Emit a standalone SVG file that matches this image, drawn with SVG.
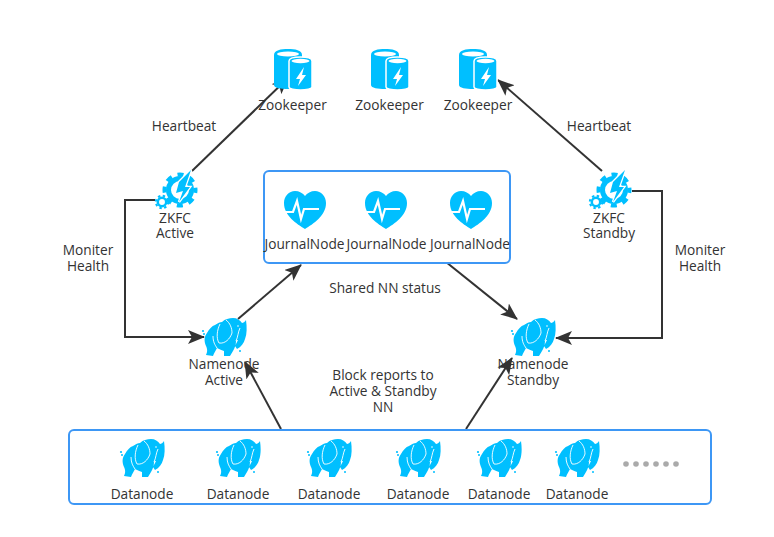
<svg xmlns="http://www.w3.org/2000/svg" width="774" height="537" viewBox="0 0 774 537">
<style>
text{font-family:"Open Sans","Noto Sans","Liberation Sans",sans-serif;font-size:13.700px;fill:#333;text-anchor:middle}
.box{fill:#fff;stroke:#3d97f5;stroke-width:2}
.line{fill:none;stroke:#333;stroke-width:2}
.ic{fill:#00bfff}
.cut{fill:none;stroke:#fff;stroke-width:0.900}
</style>
<defs>
<marker id="arr" markerUnits="userSpaceOnUse" markerWidth="18" markerHeight="14" refX="16" refY="7" orient="auto"><path d="M0 0L17 7L0 14L4 7Z" fill="#333"/></marker>
<symbol id="ele" overflow="visible">
<path class="ic" d="M2 27C0 22 0 18 3 14C5 10 8 7 11 6C14 4 16 3 18 3C21 0 25 -1 29 -1C33 -1 36 1 38 4C39 4 41 3 42 1C43 8 43 15 41 20C40 24 37 28 33 30L31 27L34 21C33 21 32 21 32 22C32 25 31 29 29 32L26 37L20 37L20 32C17 31 15 30 13 29C12 31 10 34 9 37L2 36C4 32 3 29 2 27Z"/>
<path class="cut" d="M16 5C13 11 12 19 15 24C21 25 26 20 28 14C28 9 26 4 22 1"/>
<path class="cut" d="M32 22C34 18 34 13 36 9M13 29C11 26 9 23 9 17"/>
<circle cx="34" cy="7" r="0.800" fill="#fff"/>
<circle class="ic" cx="-1" cy="12" r="1.100"/><circle class="ic" cx="0" cy="15" r="1"/>
<circle class="ic" cx="36" cy="32" r="1"/>
</symbol>
<symbol id="zk" overflow="visible">
<path class="ic" d="M0 7C0 2 7 1 14 1C21 1 28 2 28 7V37C28 40 21 41 14 41C7 41 0 40 0 37Z"/>
<path class="ic" stroke="#fff" stroke-width="1.500" d="M15 13C15 10 21 9 26.500 9C32 9 38 10 38 13V39C38 41 32 42 26.500 42C21 42 15 41 15 39Z"/>
<ellipse cx="14" cy="6" rx="11" ry="2.500" fill="#fff"/>
<ellipse cx="26.500" cy="13" rx="9" ry="2.200" fill="#fff"/>
<path d="M30 19L22 31H26L24 38L32 27H28Z" fill="#fff"/>
</symbol>
<symbol id="gear" overflow="visible">
<circle cx="16" cy="18" r="11.500" fill="none" stroke="#00bfff" stroke-width="5"/>
<circle cx="16" cy="18" r="15.500" fill="none" stroke="#00bfff" stroke-width="4" stroke-dasharray="6.090 6.090" stroke-dashoffset="3.040"/>
<path class="ic" stroke="#fff" stroke-width="2.500" paint-order="stroke" d="M27 -2L15 10L12 21L19 19L15 30L26 15L21 15Z"/>
<circle cx="-2" cy="30" r="4.200" fill="none" stroke="#00bfff" stroke-width="2.500"/>
<circle cx="-2" cy="30" r="6.200" fill="none" stroke="#00bfff" stroke-width="2" stroke-dasharray="2.430 2.440"/>
</symbol>
<symbol id="heart" overflow="visible">
<path class="ic" d="M21 38C13 33 0 25 0 12C0 5 5 0 11 0C15 0 19 2 21 5C23 2 27 0 31 0C37 0 42 5 42 12C42 25 29 33 21 38Z"/>
<path d="M0 21H9L13 10L17 28L20 18H35" fill="none" stroke="#fff" stroke-width="2.200"/>
</symbol>
</defs>

<g id="connectors">
<path class="line" marker-end="url(#arr)" d="M192 171L288 78"/>
<path class="line" marker-end="url(#arr)" d="M602 171L498 80"/>
<path class="line" marker-end="url(#arr)" d="M155 200H125V337H204"/>
<path class="line" marker-end="url(#arr)" d="M632 191H662V338H556"/>
<path class="line" marker-end="url(#arr)" d="M238 319L301 265"/>
<path class="line" marker-end="url(#arr)" d="M446 262L517 319"/>
<path class="line" marker-end="url(#arr)" d="M281 429L245 362"/>
<path class="line" marker-end="url(#arr)" d="M466 429L512 358"/>
</g>

<g id="journal-box"><rect class="box" x="264" y="171" width="246" height="92" rx="5"/></g>
<g id="datanode-box"><rect class="box" x="69" y="430" width="642" height="74" rx="5"/></g>

<g id="zk1"><use href="#zk" x="274" y="48"/><text x="292.500" y="110">Zookeeper</text></g>
<g id="zk2"><use href="#zk" x="371" y="48"/><text x="389.500" y="110">Zookeeper</text></g>
<g id="zk3"><use href="#zk" x="459" y="48"/><text x="478" y="110">Zookeeper</text></g>

<g id="zkfc-active"><use href="#gear" x="164" y="172"/><text x="175" y="223">ZKFC</text><text x="175" y="238">Active</text></g>
<g id="zkfc-standby"><use href="#gear" x="598" y="172"/><text x="609" y="223">ZKFC</text><text x="609" y="238">Standby</text></g>

<g id="jn1"><use href="#heart" x="284" y="191"/><text x="304.500" y="249">JournalNode</text></g>
<g id="jn2"><use href="#heart" x="365" y="191"/><text x="386.500" y="249">JournalNode</text></g>
<g id="jn3"><use href="#heart" x="450" y="191"/><text x="470" y="249">JournalNode</text></g>

<g id="nn-active"><use href="#ele" x="204" y="319"/><text x="224" y="369">Namenode</text><text x="224" y="385">Active</text></g>
<g id="nn-standby"><use href="#ele" x="513" y="319"/><text x="533" y="369">Namenode</text><text x="533" y="385">Standby</text></g>

<g id="dn1"><use href="#ele" x="122" y="440"/><text x="142" y="499">Datanode</text></g>
<g id="dn2"><use href="#ele" x="218" y="440"/><text x="238" y="499">Datanode</text></g>
<g id="dn3"><use href="#ele" x="309" y="440"/><text x="329" y="499">Datanode</text></g>
<g id="dn4"><use href="#ele" x="398" y="440"/><text x="418" y="499">Datanode</text></g>
<g id="dn5"><use href="#ele" x="479" y="440"/><text x="499" y="499">Datanode</text></g>
<g id="dn6"><use href="#ele" x="557" y="440"/><text x="577" y="499">Datanode</text></g>
<g id="ellipsis" fill="#aaa"><circle cx="626" cy="464" r="2.800"/><circle cx="636" cy="464" r="2.800"/><circle cx="646" cy="464" r="2.800"/><circle cx="656" cy="464" r="2.800"/><circle cx="666" cy="464" r="2.800"/><circle cx="676" cy="464" r="2.800"/></g>

<g id="labels">
<text x="184" y="131">Heartbeat</text>
<text x="599" y="131">Heartbeat</text>
<text x="88" y="255">Moniter</text><text x="88" y="271">Health</text>
<text x="700" y="255">Moniter</text><text x="700" y="271">Health</text>
<text x="385" y="293">Shared NN status</text>
<text x="383" y="380">Block reports to</text><text x="383" y="396">Active &amp; Standby</text><text x="383" y="412">NN</text>
</g>
</svg>
